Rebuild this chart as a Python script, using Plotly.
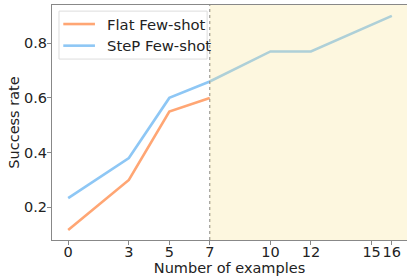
import plotly.graph_objects as go

flat_x = [0, 3, 5, 7]
flat_y = [0.117, 0.30, 0.55, 0.60]
step_x = [0, 3, 5, 7, 10, 12, 16]
step_y = [0.233, 0.38, 0.60, 0.66, 0.77, 0.77, 0.90]
tick_vals = [0, 3, 5, 7, 10, 12, 15, 16]
y_ticks = [0.2, 0.4, 0.6, 0.8]
limit_x = 7
series_names = ["Flat Few-shot", "SteP Few-shot"]
series_colors = ["rgb(255,166,116)", "rgb(142,199,245)"]

FONT = "DejaVu Sans"
fig = go.Figure()
fig.add_trace(go.Scatter(x=flat_x, y=flat_y, mode="lines", name=series_names[0],
                         line=dict(color=series_colors[0], width=2.6), showlegend=False))
fig.add_trace(go.Scatter(x=step_x, y=step_y, mode="lines", name=series_names[1],
                         line=dict(color=series_colors[1], width=2.6), showlegend=False))

fig.add_shape(type="line", x0=limit_x, x1=limit_x, y0=0, y1=1, xref="x", yref="paper",
              line=dict(color="#999999", width=1.3, dash="dot"), layer="above")
fig.add_shape(type="rect", x0=limit_x, x1=16.75, y0=0, y1=1, xref="x", yref="paper",
              fillcolor="rgba(248,228,148,0.3)", line=dict(width=0), layer="above")

# legend box (manual, matplotlib style)
fig.add_shape(type="rect", xref="paper", yref="paper", x0=0.0197, x1=0.437, y0=0.770, y1=0.974,
              fillcolor="rgba(255,255,255,0.85)", line=dict(color="#dddddd", width=1), layer="above")
for i, (nm, col) in enumerate(zip(series_names, series_colors)):
    yy = [0.919, 0.827][i]
    fig.add_shape(type="line", xref="paper", yref="paper", x0=0.0318, x1=0.121, y0=yy, y1=yy,
                  line=dict(color=col, width=2.6), layer="above")
    fig.add_annotation(xref="paper", yref="paper", x=0.148, y=yy, text=nm, showarrow=False,
                       xanchor="left", yanchor="middle",
                       font=dict(family=FONT, size=14.8, color="#222222"))

fig.update_layout(
    width=407, height=276,
    margin=dict(l=52, r=0, t=5, b=36),
    plot_bgcolor="white", paper_bgcolor="white",
    font=dict(family=FONT, size=14, color="#222222"),
    showlegend=False,
    xaxis=dict(range=[-0.8, 16.75], tickmode="array", tickvals=tick_vals,
               ticks="outside", ticklen=4, tickcolor="#888888", tickangle=0,
               showline=True, linecolor="#888888", linewidth=1, mirror=True,
               showgrid=False, zeroline=False, automargin=False,
               tickfont=dict(size=14.5), ticklabelstandoff=-5,
               title=dict(text="Number of examples", font=dict(size=14.5), standoff=0)),
    yaxis=dict(range=[0.08, 0.94], tickmode="array", tickvals=y_ticks,
               ticktext=["0.2", "0.4", "0.6", "0.8"],
               ticks="outside", ticklen=4, tickcolor="#888888",
               showline=True, linecolor="#888888", linewidth=1,
               showgrid=False, zeroline=False, automargin=False,
               tickfont=dict(size=14.5), ticklabelstandoff=-3,
               title=dict(text="Success rate", font=dict(size=14.5), standoff=0)),
)
fig.write_html("out.html", post_script="document.body.style.margin='0';",
               config={"displayModeBar": False})
